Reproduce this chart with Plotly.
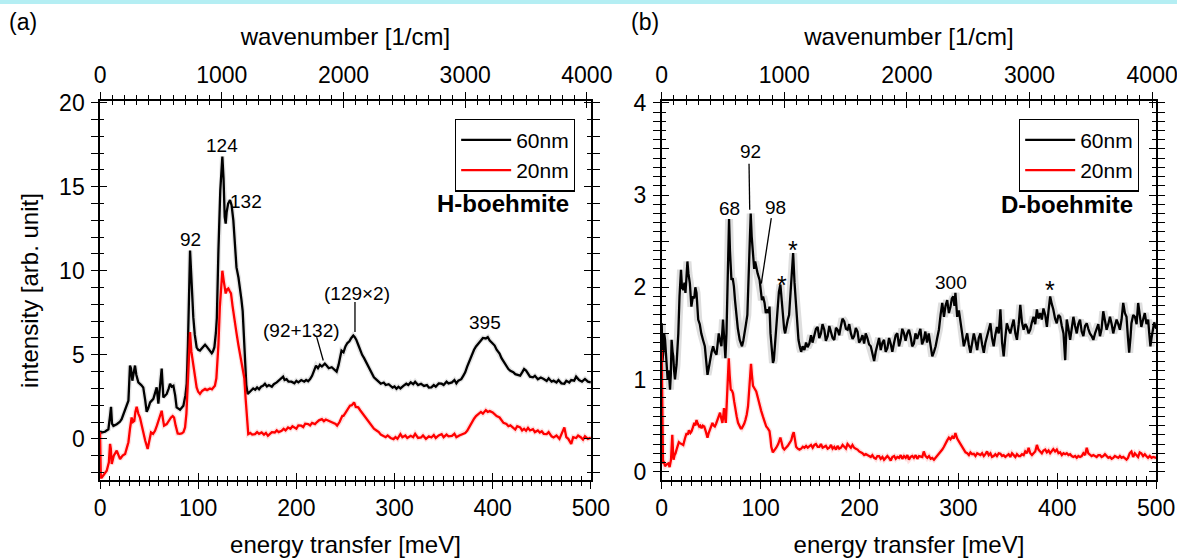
import plotly.graph_objects as go

# meV -> cm^-1 conversion for the top axis
MEV_TO_CM = 8.0655
E_MAX = 500.0

# ---------------- (a) H-boehmite: (energy transfer [meV], intensity) ----------------
h_boehmite_60nm = [
    (0, 0.45), (1.7, 0.38), (5, 0.42), (8.5, 0.57), (10.2, 1.37), (11.2, 1.9), (12.2, 0.9), (13.6, 0.77),
    (17, 0.87), (20, 1.0), (22, 1.17), (25.5, 1.67), (28.9, 2.27), (30.5, 4.36), (31.5, 4.2), (32.9, 3.46),
    (34.5, 3.9), (35.6, 4.36), (37, 3.8), (39, 3.36), (42, 3.2), (44, 3.06), (46, 2.3), (47.5, 1.61),
    (49, 1.8), (51, 2.17), (54.3, 2.38), (56, 2.7), (57.7, 3.06), (59.4, 2.1), (61, 2.9), (62.8, 4.18),
    (64.5, 2.47), (67.9, 2.67), (70, 3.0), (71.3, 3.28), (73, 3.1), (74.7, 3.16), (76.5, 2.6), (78, 1.87),
    (81.5, 1.73), (84.9, 1.97), (87, 2.6), (88.3, 3.28), (89.5, 5.5), (90.5, 8.5), (91.7, 11.2), (92.7, 10.0),
    (94, 8.3), (95, 7.24), (96.5, 6.2), (98.4, 5.45), (100, 5.3), (101.8, 5.25), (104, 5.4), (106, 5.5),
    (107, 5.6), (108.5, 5.5), (110, 5.37), (112, 5.2), (113.8, 5.09), (115, 5.2), (116.5, 5.45), (118, 6.3),
    (119, 7.2), (120.6, 11.2), (122.5, 14.8), (124.6, 16.8), (125.8, 15.5), (127, 13.2), (128, 12.8),
    (129, 13.5), (130.5, 14.0), (132.4, 14.2), (134, 13.9), (135.8, 13.0), (137.5, 11.5), (139, 10.2),
    (141, 9.6), (142.6, 9.0), (144, 8.3), (145.3, 7.6), (146.5, 6.3), (147.7, 4.5), (149, 3.2), (150.4, 2.67),
    (152, 2.75), (154.5, 2.87), (156, 3.0), (158, 2.92), (160, 3.06), (162, 2.95), (164, 3.1), (166, 3.15),
    (168, 3.28), (170, 3.12), (172, 3.2), (175, 3.1), (177, 3.25), (180, 3.36), (183, 3.5), (185, 3.62),
    (186.5, 3.7), (188, 3.5), (190, 3.55), (192, 3.4), (195, 3.4), (198, 3.3), (200, 3.45), (202, 3.36),
    (205, 3.5), (208, 3.4), (210, 3.5), (212, 3.43), (214, 3.55), (216, 3.75), (218, 4.1), (220, 4.36),
    (222, 4.2), (224, 4.4), (226, 4.3), (229, 4.47), (231, 4.35), (233, 4.2), (236, 4.26), (238, 4.15),
    (241, 4.0), (243, 4.4), (246, 5.25), (248, 5.15), (250, 5.5), (252, 5.7), (254, 5.8), (256, 6.0),
    (258, 6.15), (259.5, 6.05), (261, 5.9), (263, 5.6), (265, 5.25), (267, 5.0), (269, 4.8), (272, 4.47),
    (274, 4.2), (276, 3.95), (279, 3.66), (281, 3.55), (284, 3.35), (286, 3.28), (289, 3.35), (291, 3.2),
    (294, 3.25), (296, 3.16), (298, 3.05), (300, 3.12), (302, 2.98), (304, 3.1), (306, 3.0), (309, 3.15),
    (312, 3.28), (314, 3.2), (316.5, 3.36), (319, 3.25), (321, 3.4), (324, 3.2), (327, 3.28), (330, 3.15),
    (333, 3.2), (335, 3.05), (337.5, 3.06), (340, 3.2), (342, 3.1), (345, 3.3), (348, 3.28), (350, 3.2),
    (353, 3.4), (355, 3.3), (358.5, 3.36), (361, 3.5), (363, 3.3), (365, 3.46), (368, 3.55), (370, 3.75),
    (372, 3.96), (374, 4.3), (376, 4.6), (379, 5.07), (381, 5.3), (383, 5.5), (386, 5.75), (388, 5.85),
    (390, 6.0), (393, 5.97), (395, 6.05), (397, 5.85), (400, 5.67), (402, 5.55), (404, 5.3), (407, 5.07),
    (409, 4.8), (411, 4.6), (414, 4.36), (416, 4.15), (418, 4.05), (421, 3.96), (423, 3.85), (425, 3.8),
    (428, 3.76), (430, 3.95), (432, 4.15), (434, 4.06), (436, 3.85), (438, 3.7), (441, 3.66), (443, 3.75),
    (446, 3.55), (449, 3.65), (452, 3.56), (455, 3.45), (457, 3.6), (460, 3.4), (462, 3.46), (465, 3.35),
    (467, 3.5), (470, 3.3), (473, 3.28), (475, 3.45), (478, 3.35), (480, 3.5), (483, 3.46), (485, 3.7),
    (488, 3.5), (491, 3.4), (494, 3.56), (497, 3.4), (500, 3.36),
]

h_boehmite_20nm = [
    (0, 0.4), (0.8, -2.3), (1.7, -2.3), (4, -2.1), (6.8, -1.9), (9, -1.4), (10.2, -0.3), (11, -0.6),
    (11.9, -1.5), (14, -1.0), (17, -0.7), (19, -1.0), (20.4, -1.2), (23, -1.0), (25.5, -0.9), (27, -0.6),
    (28.9, -0.2), (30.5, 0.6), (32.2, 1.27), (33.5, 1.0), (34.9, 1.07), (36, 1.6), (37.3, 1.9), (39, 1.5),
    (40.7, 1.27), (42.5, 0.8), (44, 0.38), (46, -0.1), (48.5, -0.6), (50, -0.1), (51.9, 0.38), (54, 0.3),
    (56, 0.48), (58, 0.8), (59.4, 1.07), (61, 1.3), (62.8, 1.67), (64, 1.2), (65.2, 0.78), (67.9, 0.88),
    (70, 1.1), (72.3, 1.27), (74, 1.35), (75.4, 1.27), (77, 0.8), (79.1, 0.32), (81, 0.3), (83.2, 0.32),
    (85, 0.4), (86.6, 0.68), (88, 1.5), (89.5, 3.5), (90.5, 5.2), (91.7, 6.35), (93, 5.2), (95, 4.4),
    (96.5, 3.6), (98.4, 3.06), (100, 2.8), (101.8, 2.67), (104, 2.85), (107, 2.97), (109, 2.9), (112, 3.0),
    (114, 2.95), (117, 3.16), (118.5, 3.6), (120.6, 5.6), (122, 7.8), (123.5, 9.5), (124.6, 10.0),
    (126, 9.4), (127, 8.8), (128, 8.65), (129.5, 8.9), (130.7, 8.95), (132, 8.8), (133.4, 8.65), (135, 7.9),
    (137.5, 7.05), (139, 6.3), (140.9, 5.6), (142.5, 5.1), (144.3, 4.6), (146, 4.0), (147, 3.6), (148.3, 2.4),
    (149.4, 1.27), (150.3, 0.6), (151, 0.28), (153, 0.35), (155, 0.25), (157.8, 0.28), (160, 0.4), (162, 0.3),
    (164.6, 0.38), (167, 0.25), (169, 0.35), (171, 0.18), (173, 0.3), (175, 0.4), (178, 0.38), (180, 0.5),
    (182, 0.4), (185, 0.48), (187, 0.6), (189, 0.5), (191.5, 0.68), (194, 0.6), (196, 0.75), (198, 0.68),
    (200, 0.6), (202, 0.8), (205, 0.78), (207, 0.7), (209, 0.9), (212, 0.88), (214, 0.8), (216, 0.95),
    (219, 0.88), (221, 1.0), (223, 1.1), (226, 1.17), (228, 1.05), (230, 1.15), (233, 1.07), (235, 0.98),
    (237, 0.95), (240, 0.88), (241.5, 0.78), (244, 1.0), (246.8, 1.37), (248, 1.37), (250, 1.55),
    (252.5, 1.8), (254.6, 1.97), (256.5, 2.0), (258.8, 2.17), (260.5, 1.9), (263, 1.87), (265, 1.7),
    (268, 1.47), (270, 1.3), (272, 1.1), (275, 0.88), (277, 0.75), (279, 0.6), (282, 0.48), (284, 0.4),
    (286, 0.25), (288.5, 0.18), (291, 0.1), (293, 0.2), (296, 0.05), (299, -0.02), (301, 0.1), (303, 0.0),
    (306, 0.28), (308, 0.1), (311, 0.2), (313, 0.05), (316.5, 0.18), (319, 0.1), (321, 0.3), (324, 0.05),
    (327, 0.08), (329, 0.2), (332, 0.0), (335, 0.15), (337.5, 0.08), (340, 0.22), (342, 0.05), (345, 0.2),
    (348, 0.28), (350, 0.1), (353, 0.25), (355, 0.15), (358.5, 0.18), (361, 0.3), (363, 0.1), (366, 0.2),
    (369, 0.28), (372, 0.35), (374, 0.48), (376, 0.7), (379, 1.07), (381, 1.2), (383, 1.35), (386, 1.47),
    (388, 1.6), (390, 1.5), (393, 1.71), (395, 1.6), (397, 1.65), (400, 1.57), (402, 1.45), (404, 1.35),
    (407, 1.27), (409, 1.1), (411, 0.95), (414, 0.88), (416, 0.75), (418, 0.8), (421, 0.68), (423, 0.55),
    (425, 0.75), (428, 0.68), (430, 0.5), (432, 0.6), (434, 0.48), (436, 0.65), (438, 0.5), (441, 0.58),
    (443, 0.4), (446, 0.5), (448, 0.38), (450, 0.45), (452, 0.3), (455, 0.28), (457, 0.4), (460, 0.15),
    (462, 0.08), (465, 0.2), (468, 0.0), (470, 0.25), (473, 0.68), (475, 0.1), (477, 0.0), (480, -0.3),
    (482, 0.1), (485, 0.05), (487, 0.2), (490, 0.08), (492, -0.05), (494, 0.15), (497, 0.0), (500, 0.08),
]

# ---------------- (b) D-boehmite ----------------
d_boehmite_60nm = [
    (0, 1.61), (0.8, 1.2), (1.7, 1.32), (2.5, 1.5), (3.4, 1.43), (4.5, 1.2), (6, 0.997), (7.2, 1.1),
    (8.4, 0.89), (9.2, 1.05), (10, 1.43), (11, 1.3), (11.7, 1.25), (12.5, 1.1), (13.4, 1.0), (15, 1.16),
    (16, 1.35), (16.8, 1.5), (18, 1.9), (19.5, 2.19), (20.5, 2.0), (21.8, 1.97), (23, 2.05), (24, 1.94),
    (25, 2.1), (26, 2.28), (27, 2.15), (28.5, 2.04), (30, 1.79), (31.5, 1.9), (32.9, 1.88), (34, 2.0),
    (35.2, 1.94), (36.9, 1.65), (38.5, 1.6), (40, 1.5), (42, 1.42), (43.6, 1.36), (45, 1.2), (46.3, 1.05),
    (47.5, 1.12), (48.7, 1.21), (50.5, 1.3), (52, 1.36), (53.5, 1.3), (55.4, 1.27), (56.5, 1.4), (57.7, 1.5),
    (59, 1.42), (60.4, 1.36), (62, 1.65), (63.2, 1.4), (64.4, 1.23), (65.5, 1.5), (66.4, 1.86), (67.3, 2.4),
    (68.1, 2.74), (69, 2.4), (70.5, 2.08), (71.8, 2.1), (73, 2.01), (74.2, 1.85), (75.5, 1.68), (77, 1.55),
    (78.9, 1.43), (80, 1.38), (81.2, 1.36), (82.5, 1.42), (83.9, 1.5), (85.2, 1.6), (86.6, 1.7), (87.5, 1.95),
    (88.3, 2.22), (89.2, 2.6), (90, 2.8), (91, 2.55), (92.3, 2.33), (93.5, 2.2), (94.5, 2.28), (95.6, 2.22),
    (97, 2.15), (99, 2.08), (100.2, 1.95), (101.3, 1.86), (102.5, 1.9), (104, 1.83), (105.3, 1.72),
    (106.7, 1.76), (108, 1.72), (109, 1.79), (110, 1.5), (111.4, 1.25), (112.5, 1.18), (113.4, 1.21),
    (115, 1.45), (116.8, 1.76), (118.5, 1.95), (120, 2.03), (121.3, 1.85), (122.5, 1.65), (123.8, 1.55),
    (124.8, 1.5), (126, 1.58), (127.5, 1.65), (128.8, 1.7), (129.9, 1.86), (131.2, 2.1), (132.9, 2.37),
    (134.3, 2.05), (135.9, 1.76), (137.2, 1.55), (138.3, 1.43), (139.8, 1.35), (141, 1.3), (142.5, 1.36),
    (144.3, 1.32), (146, 1.4), (147.5, 1.35), (149.3, 1.39), (151, 1.48), (152.5, 1.4), (154.4, 1.47),
    (156, 1.55), (157.7, 1.57), (159.3, 1.45), (161, 1.5), (162.6, 1.6), (164.4, 1.54), (166, 1.42),
    (167.8, 1.47), (169.5, 1.58), (171, 1.52), (172.8, 1.45), (174.5, 1.43), (176.2, 1.56), (177.9, 1.54),
    (179.5, 1.48), (181, 1.57), (182.8, 1.66), (184.6, 1.63), (186.3, 1.55), (188, 1.54), (189.6, 1.6),
    (191.3, 1.5), (193, 1.44), (194.6, 1.47), (196.3, 1.56), (198, 1.52), (199.6, 1.4), (201.3, 1.43),
    (203, 1.48), (204.7, 1.39), (206.3, 1.5), (208, 1.45), (209.7, 1.38), (211.4, 1.36), (213, 1.28),
    (214.8, 1.2), (216.4, 1.3), (218, 1.36), (219.8, 1.45), (221.5, 1.32), (223.2, 1.4), (224.8, 1.43),
    (226.5, 1.3), (228.2, 1.34), (229.9, 1.45), (231.5, 1.39), (233.2, 1.3), (235, 1.4), (236.6, 1.48),
    (238.3, 1.5), (240, 1.36), (241.6, 1.43), (243.3, 1.55), (245, 1.5), (246.6, 1.42), (248.3, 1.5),
    (250, 1.54), (251.6, 1.47), (253.3, 1.36), (255, 1.39), (256.6, 1.5), (258.3, 1.44), (260, 1.5),
    (261.6, 1.55), (263.3, 1.38), (265, 1.43), (266.6, 1.52), (268.3, 1.4), (270, 1.5), (271.8, 1.38),
    (273.6, 1.25), (275.3, 1.3), (277, 1.36), (278.6, 1.45), (280.3, 1.54), (282, 1.7), (283.7, 1.83),
    (285.4, 1.68), (287, 1.8), (288.7, 1.86), (290.4, 1.72), (292, 1.79), (293.4, 1.88), (294.8, 1.9),
    (296, 1.8), (297, 1.94), (298.8, 1.68), (300.5, 1.75), (302, 1.65), (303.8, 1.5), (305.5, 1.36),
    (307.2, 1.45), (308.9, 1.5), (310.5, 1.38), (312.2, 1.29), (314, 1.4), (315.6, 1.5), (317.3, 1.42),
    (319, 1.32), (320.6, 1.45), (322.3, 1.5), (324, 1.38), (325.7, 1.29), (327.3, 1.4), (329, 1.47),
    (330.7, 1.55), (332.4, 1.61), (334, 1.45), (335.7, 1.36), (337.3, 1.48), (339, 1.57), (340.8, 1.5),
    (342.5, 1.76), (344.2, 1.4), (345.8, 1.25), (347.4, 1.45), (349, 1.61), (350.8, 1.55), (352.5, 1.5),
    (354.2, 1.58), (355.9, 1.65), (357.6, 1.5), (359.2, 1.43), (361, 1.6), (362.6, 1.81), (364.3, 1.62),
    (366, 1.54), (367.7, 1.6), (369.3, 1.57), (371, 1.5), (372.7, 1.54), (374.3, 1.62), (376, 1.68),
    (377.7, 1.6), (379.4, 1.76), (381, 1.66), (382.7, 1.72), (384.4, 1.65), (386, 1.77), (387.8, 1.7),
    (389.5, 1.57), (391.2, 1.75), (392.8, 1.9), (394.4, 1.82), (396, 1.76), (397.8, 1.66), (399.5, 1.61),
    (401.2, 1.7), (402.9, 1.68), (404.6, 1.58), (406.3, 1.5), (408, 1.21), (409.6, 1.65), (411.3, 1.55),
    (413, 1.43), (414.6, 1.55), (416.3, 1.68), (418, 1.58), (419.7, 1.5), (421.3, 1.6), (423, 1.65),
    (424.7, 1.52), (426.4, 1.47), (428.1, 1.58), (429.8, 1.61), (431.4, 1.55), (433, 1.5), (434.8, 1.47),
    (436.5, 1.43), (438.2, 1.5), (439.8, 1.54), (441.5, 1.6), (443.2, 1.47), (444.8, 1.55), (446.5, 1.74),
    (448.2, 1.62), (449.9, 1.54), (451.6, 1.6), (453.3, 1.68), (455, 1.6), (456.6, 1.5), (458.3, 1.58),
    (460, 1.65), (461.7, 1.6), (463.3, 1.54), (465, 1.65), (466.7, 1.83), (468.4, 1.72), (470, 1.68),
    (471.5, 1.45), (472.7, 1.29), (474, 1.45), (475, 1.61), (476.8, 1.7), (478.5, 1.68), (480.2, 1.6),
    (481.8, 1.83), (483.4, 1.7), (485, 1.57), (486.8, 1.65), (488.5, 1.72), (490.2, 1.6), (491.9, 1.65),
    (493, 1.5), (494.2, 1.36), (495.3, 1.45), (496.3, 1.5), (498, 1.62), (500, 1.55),
]

d_boehmite_20nm = [
    (0, 1.32), (0.5, 0.8), (1.3, 0.09), (2.3, 0.1), (3.4, 0.06), (5, 0.08), (6.7, 0.09), (8, 0.05),
    (9.4, 0.13), (10.2, 0.3), (10.7, 0.4), (11.3, 0.25), (12, 0.13), (13, 0.18), (14, 0.2), (15, 0.24),
    (16, 0.27), (17.3, 0.32), (18.5, 0.31), (20, 0.3), (21.8, 0.29), (23.5, 0.36), (25.2, 0.42), (26.3, 0.4),
    (27.5, 0.45), (29, 0.42), (30.2, 0.44), (31.5, 0.48), (33, 0.53), (34, 0.5), (35.2, 0.56), (36.5, 0.52),
    (38, 0.49), (39, 0.5), (40.3, 0.47), (41.5, 0.5), (43, 0.49), (44.5, 0.44), (46.3, 0.37), (47.5, 0.42),
    (48.7, 0.45), (50, 0.49), (51.3, 0.53), (52.5, 0.5), (53.7, 0.49), (55, 0.52), (56.4, 0.56), (57.7, 0.6),
    (59, 0.64), (60.2, 0.58), (61.4, 0.53), (62.2, 0.6), (63, 0.69), (63.8, 0.6), (64.8, 0.53), (65.6, 0.7),
    (66.4, 0.92), (67.1, 1.1), (67.8, 1.23), (68.7, 1.05), (69.8, 0.89), (71, 0.88), (72.1, 0.85),
    (73.3, 0.76), (74.5, 0.67), (75.8, 0.6), (77.2, 0.53), (78.5, 0.5), (79.9, 0.47), (81, 0.47),
    (82.2, 0.49), (83.4, 0.52), (84.6, 0.56), (86, 0.62), (87.3, 0.71), (88.2, 0.85), (89, 0.99),
    (90.3, 1.17), (91.2, 1.05), (92.3, 0.93), (94, 0.9), (95.6, 0.87), (97.3, 0.8), (99, 0.71),
    (100.6, 0.66), (102.3, 0.6), (104, 0.55), (105.7, 0.49), (107.3, 0.47), (109, 0.44), (110, 0.36),
    (110.8, 0.27), (112.4, 0.21), (114, 0.23), (115.8, 0.26), (117.8, 0.3), (119, 0.35), (120, 0.37),
    (121.2, 0.32), (122.5, 0.26), (124, 0.24), (125.8, 0.26), (127.5, 0.28), (129.2, 0.31), (131, 0.34),
    (132.4, 0.4), (133.5, 0.43), (134.7, 0.35), (135.9, 0.27), (137.6, 0.25), (139.3, 0.24), (141, 0.25),
    (142.7, 0.27), (144.3, 0.26), (146, 0.28), (147.7, 0.26), (149.3, 0.27), (151, 0.29), (152.7, 0.26),
    (154.4, 0.29), (156, 0.3), (157.7, 0.27), (159.4, 0.27), (161, 0.3), (162.7, 0.26), (164.4, 0.27),
    (166, 0.28), (167.8, 0.25), (169.5, 0.26), (171.2, 0.29), (172.8, 0.25), (174.5, 0.27), (176.2, 0.24),
    (177.8, 0.28), (179.5, 0.25), (181.2, 0.26), (182.9, 0.29), (184.6, 0.27), (186.3, 0.25), (187.9, 0.3),
    (189.6, 0.28), (191.3, 0.26), (192.9, 0.29), (194.6, 0.26), (196.3, 0.25), (198, 0.24), (199.7, 0.22),
    (201.4, 0.21), (203, 0.2), (204.7, 0.18), (206.4, 0.19), (208, 0.18), (209.7, 0.17), (211.4, 0.16),
    (213, 0.18), (214.8, 0.15), (216.5, 0.14), (218.1, 0.17), (219.8, 0.17), (221.5, 0.14), (223.2, 0.16),
    (224.8, 0.13), (226.5, 0.15), (228.2, 0.17), (229.9, 0.15), (231.6, 0.12), (233.2, 0.16), (235, 0.17),
    (236.6, 0.14), (238.3, 0.16), (240, 0.15), (241.7, 0.18), (243.3, 0.14), (245, 0.17), (246.7, 0.15),
    (248.4, 0.18), (250, 0.13), (251.7, 0.16), (253.4, 0.17), (255, 0.15), (256.8, 0.18), (258.5, 0.14),
    (260.2, 0.17), (261.9, 0.166), (263.5, 0.16), (265, 0.22), (266.8, 0.17), (268.6, 0.15), (270.3, 0.17),
    (272, 0.14), (273.6, 0.15), (275.3, 0.13), (277, 0.15), (278.6, 0.17), (280.3, 0.2), (282, 0.22),
    (283.7, 0.24), (285.4, 0.27), (287, 0.31), (288.7, 0.34), (290.4, 0.37), (292, 0.35), (293.8, 0.38),
    (295.4, 0.36), (297, 0.42), (298.8, 0.36), (300.5, 0.33), (302.1, 0.3), (303.8, 0.26), (305.5, 0.23),
    (307.2, 0.21), (308.9, 0.2), (310.6, 0.18), (312.2, 0.21), (314, 0.19), (315.6, 0.195), (317.3, 0.17),
    (319, 0.2), (320.6, 0.19), (322.3, 0.18), (324, 0.2), (325.7, 0.17), (327.3, 0.19), (329, 0.22),
    (330.7, 0.18), (332.4, 0.2), (334, 0.16), (335.7, 0.17), (337.4, 0.19), (339, 0.17), (340.8, 0.2),
    (342.5, 0.195), (344.2, 0.17), (345.8, 0.18), (347.5, 0.16), (349, 0.17), (350.8, 0.19), (352.5, 0.16),
    (354.2, 0.2), (355.9, 0.18), (357.6, 0.16), (359.2, 0.19), (361, 0.17), (362.6, 0.17), (364.3, 0.19),
    (366, 0.18), (367.6, 0.22), (369.3, 0.2), (371, 0.26), (372.7, 0.2), (374.4, 0.18), (376, 0.2),
    (377.7, 0.22), (379.4, 0.29), (381, 0.24), (382.7, 0.22), (384.4, 0.2), (386, 0.23), (387.8, 0.24),
    (389.5, 0.21), (391.2, 0.23), (392.8, 0.2), (394.4, 0.22), (396, 0.245), (397.8, 0.22), (399.5, 0.24),
    (401.2, 0.2), (402.9, 0.21), (404.6, 0.18), (406.3, 0.2), (408, 0.19), (409.6, 0.2), (411.3, 0.18),
    (413, 0.19), (414.6, 0.17), (416.3, 0.16), (418, 0.17), (419.7, 0.15), (421.3, 0.17), (423, 0.16),
    (424.7, 0.17), (426.4, 0.2), (428.1, 0.18), (429.8, 0.26), (431.4, 0.2), (433, 0.18), (434.8, 0.17),
    (436.5, 0.18), (438, 0.17), (439.8, 0.16), (441.5, 0.18), (443.2, 0.18), (444.8, 0.16), (446.5, 0.17),
    (448.2, 0.19), (450, 0.17), (451.6, 0.15), (453.3, 0.16), (455, 0.14), (456.6, 0.15), (458.3, 0.17),
    (460, 0.16), (461.7, 0.15), (463.3, 0.17), (465, 0.15), (466.7, 0.16), (468.4, 0.14), (470, 0.13),
    (471.5, 0.15), (473.2, 0.2), (475, 0.22), (476.7, 0.16), (478.4, 0.2), (480, 0.18), (481.7, 0.16),
    (483.4, 0.21), (485, 0.2), (486.8, 0.17), (488.5, 0.19), (490, 0.17), (491.8, 0.15), (493.5, 0.17),
    (495.3, 0.15), (497, 0.16), (500, 0.15),
]

# Peak labels: (text, energy, intensity)
peak_labels_h = [("92", 92.5, 11.85), ("124", 124.5, 17.45), ("132", 149.0, 14.1),
                 ("(92+132)", 205.0, 6.45), ("(129×2)", 262.0, 8.65), ("395", 392.0, 6.9)]
peak_labels_d = [("68", 68.1, 2.85), ("92", 89.7, 3.47), ("98", 115.2, 2.87),
                 ("*", 121.5, 2.03), ("*", 132.6, 2.40), ("300", 292.8, 2.05), ("*", 392.2, 1.97)]
# Leader lines: (energy0, intensity0, energy1, intensity1)
leaders_h = [(220.7, 6.05, 227.4, 4.66), (259.7, 8.14, 259.7, 6.35)]
leaders_d = [(88.3, 3.34, 89.0, 2.84), (110.8, 2.75, 100.7, 2.04)]

FONT = "Liberation Sans, Arial, sans-serif"
BLACK = "#000000"
RED = "#ff0000"

# Panel geometry (paper fractions)
DOM_A = [0.0850, 0.5020]
DOM_B = [0.5622, 0.9823]
DOM_Y = [0.1413, 0.8193]

fig = go.Figure()


def add_spectrum(points, color, haze, haze_w, name, xa, ya, legend):
    e = [p[0] for p in points]
    i = [p[1] for p in points]
    # faint error haze underneath
    fig.add_trace(go.Scatter(x=e, y=i, mode="lines", line=dict(color=haze, width=haze_w),
                             hoverinfo="skip", showlegend=False, xaxis=xa, yaxis=ya))
    fig.add_trace(go.Scatter(x=e, y=i, mode="lines", line=dict(color=color, width=2.3),
                             name=name, xaxis=xa, yaxis=ya, legend=legend))


def add_axis_anchor(xa, ya):
    # empty trace so that an overlay axis gets drawn
    fig.add_trace(go.Scatter(x=[None], y=[None], mode="lines", showlegend=False,
                             hoverinfo="skip", xaxis=xa, yaxis=ya))


add_spectrum(h_boehmite_60nm, BLACK, "rgba(0,0,0,0.10)", 5, "60nm", "x", "y", "legend")
add_spectrum(h_boehmite_20nm, RED, "rgba(255,0,0,0.12)", 5, "20nm", "x", "y", "legend")
add_spectrum(d_boehmite_60nm, BLACK, "rgba(0,0,0,0.13)", 8, "60nm", "x5", "y3", "legend2")
add_spectrum(d_boehmite_20nm, RED, "rgba(255,0,0,0.12)", 5, "20nm", "x5", "y3", "legend2")
for xa, ya in [("x2", "y"), ("x3", "y"), ("x4", "y"), ("x", "y2"),
               ("x6", "y3"), ("x7", "y3"), ("x8", "y3"), ("x5", "y4")]:
    add_axis_anchor(xa, ya)

tick_font = dict(family=FONT, size=23, color=BLACK)
title_font = dict(family=FONT, size=24, color=BLACK)
MAJ, MIN = 7, 4
TICKW = 1.3


def energy_axes(base, dom, anchor):
    """bottom energy axis + top wavenumber axis, each with ticks crossing the frame line"""
    b = base
    common = dict(showgrid=False, zeroline=False, linecolor=BLACK, linewidth=1.5,
                  tickcolor=BLACK, tickwidth=TICKW, automargin=False, ticklabeloverflow="allow")
    axes = {}
    axes[f"xaxis{b if b > 1 else ''}"] = dict(
        domain=dom, anchor=anchor, range=[0, E_MAX], side="bottom", showline=True,
        tickmode="linear", tick0=0, dtick=100, ticks="outside", ticklen=MAJ,
        minor=dict(tick0=0, dtick=10, ticks="outside", ticklen=MIN, tickcolor=BLACK, tickwidth=TICKW),
        tickfont=tick_font, title=dict(text="energy transfer [meV]", font=title_font, standoff=16),
        **common)
    ov = f"x{b if b > 1 else ''}"
    axes[f"xaxis{b + 1}"] = dict(
        overlaying=ov, anchor=anchor, range=[0, E_MAX * MEV_TO_CM], side="top", showline=True,
        tickmode="linear", tick0=0, dtick=1000, ticks="outside", ticklen=MAJ,
        minor=dict(tick0=0, dtick=100, ticks="outside", ticklen=MIN, tickcolor=BLACK, tickwidth=TICKW),
        tickfont=tick_font, title=dict(text="wavenumber [1/cm]", font=title_font, standoff=10),
        **common)
    axes[f"xaxis{b + 2}"] = dict(
        overlaying=ov, anchor=anchor, range=[0, E_MAX], side="bottom", showline=False,
        tickmode="linear", tick0=0, dtick=100, ticks="inside", ticklen=MAJ, showticklabels=False,
        minor=dict(tick0=0, dtick=10, ticks="inside", ticklen=MIN, tickcolor=BLACK, tickwidth=TICKW),
        **common)
    axes[f"xaxis{b + 3}"] = dict(
        overlaying=ov, anchor=anchor, range=[0, E_MAX * MEV_TO_CM], side="top", showline=False,
        tickmode="linear", tick0=0, dtick=1000, ticks="inside", ticklen=MAJ, showticklabels=False,
        minor=dict(tick0=0, dtick=100, ticks="inside", ticklen=MIN, tickcolor=BLACK, tickwidth=TICKW),
        **common)
    return axes


def intensity_axes(base, anchor, rng, tickvals, ticktext, minor_dtick, title):
    common = dict(showgrid=False, zeroline=False, linecolor=BLACK, linewidth=1.5,
                  tickcolor=BLACK, tickwidth=TICKW, range=rng, tickmode="array",
                  tickvals=tickvals, mirror="allticks", ticklen=MAJ, automargin=False)
    name = f"yaxis{base if base > 1 else ''}"
    ov = f"y{base if base > 1 else ''}"
    axes = {
        name: dict(domain=DOM_Y, anchor=anchor, showline=True, ticks="outside", ticktext=ticktext,
                   minor=dict(tick0=0, dtick=minor_dtick, ticks="outside", ticklen=MIN,
                              tickcolor=BLACK, tickwidth=TICKW),
                   tickfont=tick_font, ticklabelstandoff=2,
                   title=dict(text=title, font=title_font, standoff=14), **common),
        f"yaxis{base + 1}": dict(overlaying=ov, anchor=anchor, showline=False, ticks="inside",
                                 showticklabels=False,
                                 minor=dict(tick0=0, dtick=minor_dtick, ticks="inside", ticklen=MIN,
                                            tickcolor=BLACK, tickwidth=TICKW), **common),
    }
    return axes


layout_axes = {}
layout_axes.update(energy_axes(1, DOM_A, "y"))
layout_axes.update(energy_axes(5, DOM_B, "y3"))
layout_axes.update(intensity_axes(1, "x", [-2.45, 20.1], [0, 5, 10, 15, 20],
                                  ["0", "5", "10", "15", "20"], 1, "intensity [arb. unit]"))
layout_axes.update(intensity_axes(3, "x5", [-0.09, 4.02],
                                  [0, 0.5, 1, 1.5, 2, 2.5, 3, 3.5, 4],
                                  ["0", "", "1", "", "2", "", "3", "", "4"], 0.1, ""))

legend_style = dict(bgcolor="white", bordercolor=BLACK, borderwidth=1.2,
                    font=dict(family=FONT, size=21, color=BLACK), xanchor="right", yanchor="top",
                    tracegroupgap=0, itemwidth=50)

annotations = []
for text, e, i in peak_labels_h:
    annotations.append(dict(text=text, x=e, y=i, xref="x", yref="y", showarrow=False,
                            font=dict(family=FONT, size=19, color=BLACK)))
for text, e, i in peak_labels_d:
    annotations.append(dict(text=text, x=e, y=i, xref="x5", yref="y3", showarrow=False,
                            font=dict(family=FONT, size=25 if text == "*" else 19, color=BLACK)))
annotations += [
    dict(text="<b>H-boehmite</b>", x=411, y=14.0, xref="x", yref="y", showarrow=False,
         font=dict(family=FONT, size=24, color=BLACK)),
    dict(text="<b>D-boehmite</b>", x=409.6, y=2.90, xref="x5", yref="y3", showarrow=False,
         font=dict(family=FONT, size=24, color=BLACK)),
    dict(text="(a)", x=0.0195, y=0.961, xref="paper", yref="paper", showarrow=False,
         xanchor="center", yanchor="middle", font=dict(family=FONT, size=23, color=BLACK)),
    dict(text="(b)", x=0.548, y=0.961, xref="paper", yref="paper", showarrow=False,
         xanchor="center", yanchor="middle", font=dict(family=FONT, size=23, color=BLACK)),
]

shapes = [dict(type="rect", xref="paper", yref="paper", x0=0, x1=1, y0=0.993, y1=1,
               fillcolor="#b4eef3", line=dict(width=0), layer="below")]
for e0, i0, e1, i1 in leaders_h:
    shapes.append(dict(type="line", xref="x", yref="y", x0=e0, y0=i0, x1=e1, y1=i1,
                       line=dict(color=BLACK, width=1.3)))
for e0, i0, e1, i1 in leaders_d:
    shapes.append(dict(type="line", xref="x5", yref="y3", x0=e0, y0=i0, x1=e1, y1=i1,
                       line=dict(color=BLACK, width=1.3)))

fig.update_layout(
    width=1177, height=559, autosize=False,
    margin=dict(l=0, r=0, t=0, b=0, autoexpand=False),
    paper_bgcolor="white", plot_bgcolor="white",
    font=dict(family=FONT, color=BLACK),
    legend=dict(x=0.4885, y=0.788, **legend_style),
    legend2=dict(x=0.9677, y=0.788, **legend_style),
    annotations=annotations, shapes=shapes,
    **layout_axes,
)

fig.write_html("out.html")
